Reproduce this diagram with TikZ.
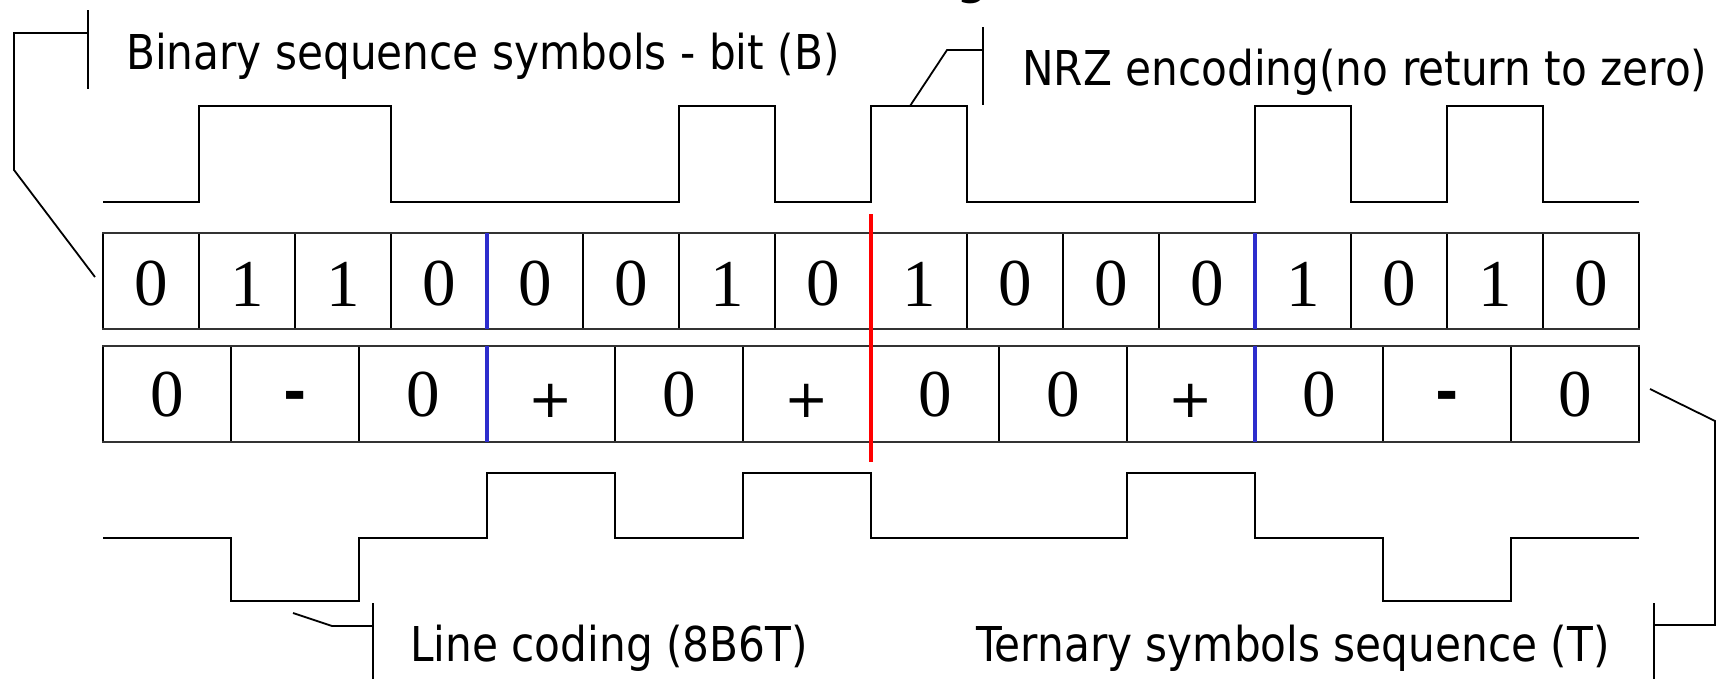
\documentclass[tikz,border=0pt]{standalone}
\usepackage{fontspec}
\setmainfont{Liberation Serif}
\newfontfamily\labfont{DejaVu Sans}[FakeStretch=0.88]
\newfontfamily\symfont{DejaVu Sans}
\begin{document}
\begin{tikzpicture}[x=1pt,y=-1pt,
  wave/.style={line width=2.2pt, line join=miter},
  callout/.style={line width=1.8pt},
  cellline/.style={line width=1.8pt},
  rowedge/.style={line width=2.4pt, draw=black!80},
  bluesep/.style={line width=3.4pt, draw={rgb,255:red,45;green,45;blue,205}},
  redsep/.style={line width=3.8pt, draw=red},
  dg/.style={inner sep=0pt, font=\fontsize{67}{67}\selectfont},
  sg/.style={inner sep=0pt, yshift=-6pt, font=\symfont\fontsize{53}{53}\selectfont},
  mg/.style={inner sep=0pt, yshift=-6pt, font=\symfont\bfseries\fontsize{56}{56}\selectfont},
  lbl/.style={inner sep=0pt, anchor=base west, font=\labfont\fontsize{48}{56}\selectfont}]
\useasboundingbox (0,0) rectangle (1718,678);

% title fragment (cut off at the top)
\node[inner sep=0pt, anchor=base, font=\labfont\bfseries\fontsize{48}{56}\selectfont] (title) at (973,-7) {g};

% NRZ waveform
\draw[wave] (103,202) -- (199,202) -- (199,106) -- (391,106) -- (391,202) -- (679,202) -- (679,106) -- (775,106) -- (775,202) -- (871,202) -- (871,106) -- (967,106) -- (967,202) -- (1255,202) -- (1255,106) -- (1351,106) -- (1351,202) -- (1447,202) -- (1447,106) -- (1543,106) -- (1543,202) -- (1639,202);

% row 1: binary cells
\foreach \i in {0,...,16} \draw[cellline] ({103+96*\i},233) -- ({103+96*\i},329);
\draw[rowedge] (102,233) -- (1640,233);
\draw[rowedge] (102,329) -- (1640,329);
\foreach \b [count=\i from 0] in {0,1,1,0,0,0,1,0,1,0,0,0,1,0,1,0}
  \node[dg] (bit\i) at ({151+96*\i},284) {\b};

% row 2: ternary cells
\foreach \i in {0,...,12} \draw[cellline] ({103+128*\i},346) -- ({103+128*\i},442);
\draw[rowedge] (102,346) -- (1640,346);
\draw[rowedge] (102,442) -- (1640,442);
\foreach \s/\st [count=\i from 0] in {0/dg,-/mg,0/dg,+/sg,0/dg,+/sg,0/dg,0/dg,+/sg,0/dg,-/mg,0/dg}
  \node[\st] (tri\i) at ({167+128*\i},395) {\s};

% group separators
\draw[bluesep] (487,233) -- (487,329);
\draw[bluesep] (487,346) -- (487,442);
\draw[bluesep] (1255,233) -- (1255,329);
\draw[bluesep] (1255,346) -- (1255,442);
\draw[redsep] (871,214) -- (871,462);

% ternary waveform
\draw[wave] (103,538) -- (231,538) -- (231,601) -- (359,601) -- (359,538) -- (487,538) -- (487,473) -- (615,473) -- (615,538) -- (743,538) -- (743,473) -- (871,473) -- (871,538) -- (1127,538) -- (1127,473) -- (1255,473) -- (1255,538) -- (1383,538) -- (1383,601) -- (1511,601) -- (1511,538) -- (1639,538);

% labels
\node[lbl] (lblB) at (126,69) {Binary sequence symbols - bit (B)};
\node[lbl] (lblNRZ) at (1022,85) {NRZ encoding(no return to zero)};
\node[lbl] (lblLine) at (410,661) {Line coding (8B6T)};
\node[lbl] (lblT) at (976,661) {Ternary symbols sequence (T)};

% callouts
\coordinate (cB) at (95,277);
\coordinate (cNRZ) at (910,106);
\coordinate (cLine) at (293,613);
\coordinate (cT) at (1650,389);
\draw[callout] (cB) -- (14,170) -- (14,33) -- (88,33);
\draw[callout] (88,10) -- (88,89);
\draw[callout] (cNRZ) -- (947,50) -- (983,50);
\draw[callout] (983,27) -- (983,105);
\draw[callout] (cLine) -- (332,626) -- (373,626);
\draw[callout] (373,603) -- (373,690);
\draw[callout] (cT) -- (1715,421) -- (1715,625) -- (1654,625);
\draw[callout] (1654,603) -- (1654,690);
\end{tikzpicture}
\end{document}
